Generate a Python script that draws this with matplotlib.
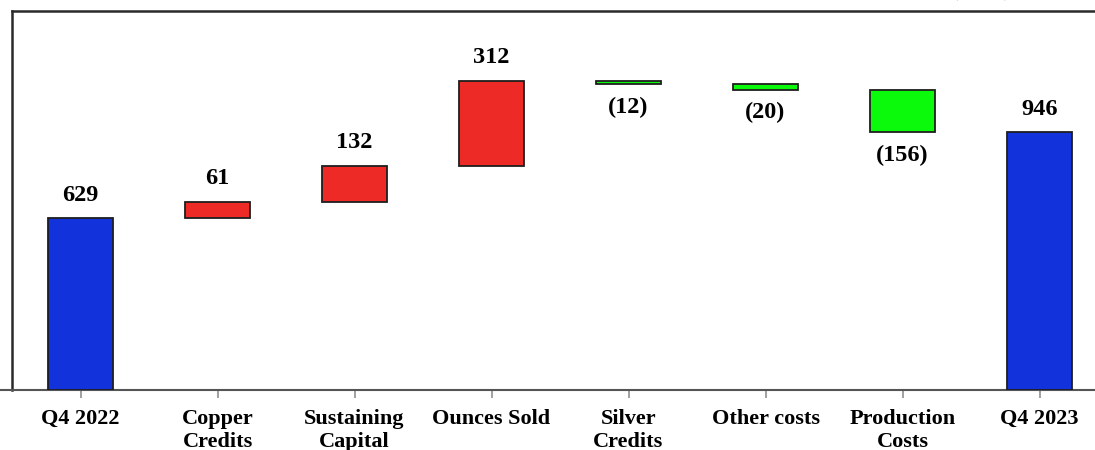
import matplotlib
matplotlib.use("Agg")
import matplotlib.pyplot as plt
import numpy as np

# Waterfall components (US$/oz)
categories = ["Q4 2022", "Copper\nCredits", "Sustaining\nCapital", "Ounces Sold",
              "Silver\nCredits", "Other costs", "Production\nCosts", "Q4 2023"]
start_value = 629
changes = [61, 132, 312, -12, -20, -156]
end_value = 946

title = "Change in all-in sustaining costs by per ounce sold component ($/oz)"

BLUE = "#1233DC"
RED = "#EE2A26"
GREEN = "#0BFA0B"
EDGE = "#1e1e1e"

plt.rcParams["font.family"] = ["Liberation Serif", "DejaVu Serif"]
plt.rcParams["font.weight"] = "bold"

fig = plt.figure(figsize=(10.95, 4.5), dpi=100)
ax = fig.add_axes([12 / 1095, 1 - 390 / 450, 1096 / 1095, 379 / 450])

# running totals for the floating bars
levels = np.concatenate([[start_value], start_value + np.cumsum(changes)])
bottoms, heights, colors = [0], [start_value], [BLUE]
for i, c in enumerate(changes):
    lo = min(levels[i], levels[i + 1])
    bottoms.append(lo)
    heights.append(abs(c))
    colors.append(RED if c > 0 else GREEN)
bottoms.append(0)
heights.append(end_value)
colors.append(BLUE)

x = np.arange(len(categories))
ax.bar(x, heights, bottom=bottoms, width=0.48, color=colors,
       edgecolor=EDGE, linewidth=1.3, zorder=3)

values = [start_value] + changes + [end_value]
for xi, v, b, h in zip(x, values, bottoms, heights):
    if v >= 0:
        ax.annotate(f"{v:,}", (xi, b + h), xytext=(0, 9), textcoords="offset points",
                    ha="center", va="bottom", fontsize=17.5, fontweight="bold")
    else:
        ax.annotate(f"({abs(v)})", (xi, b), xytext=(0, -9), textcoords="offset points",
                    ha="center", va="top", fontsize=17.5, fontweight="bold")

ax.set_xlim(-0.5, 7.5)
ax.set_ylim(0, 1390)
ax.set_yticks([])
ax.set_xticks(x)
ax.set_xticklabels(categories, fontsize=16, fontweight="bold", linespacing=1.2)
ax.tick_params(axis="x", length=6, width=1.4, color="#a0a0a0", pad=7.5)

for side in ("left", "top", "right"):
    ax.spines[side].set_color("#2a2a2a")
    ax.spines[side].set_linewidth(1.8)
ax.spines["bottom"].set_color("#555555")
ax.spines["bottom"].set_linewidth(1.5)
ax.spines["bottom"].set_bounds(-0.59, 7.5)

fig.text(0.575, 1 + 5 / 450, title, ha="center", va="baseline",
         fontsize=19, fontweight="bold")

fig.savefig("out.png", dpi=100)
